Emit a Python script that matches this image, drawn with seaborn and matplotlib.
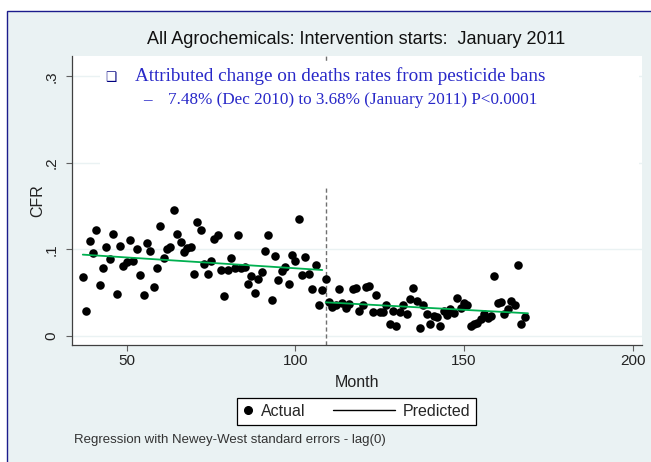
import matplotlib.patches as mpatches
import matplotlib.pyplot as plt
import numpy as np
import pandas as pd
import seaborn as sns
from matplotlib.legend_handler import HandlerLine2D
from matplotlib.lines import Line2D

# monthly case fatality rate, month 37 .. 168
months = list(range(37, 169))
cfr = [
    0.068, 0.029, 0.109, 0.096, 0.122, 0.059, 0.078, 0.103, 0.089, 0.118,  # 37-46
    0.048, 0.104, 0.081, 0.085, 0.111, 0.086, 0.100, 0.070, 0.047, 0.107,  # 47-56
    0.098, 0.056, 0.078, 0.127, 0.090, 0.100, 0.103, 0.146, 0.118, 0.108,  # 57-66
    0.097, 0.102, 0.103, 0.071, 0.132, 0.122, 0.083, 0.071, 0.087, 0.112,  # 67-76
    0.116, 0.076, 0.046, 0.076, 0.090, 0.078, 0.117, 0.078, 0.080, 0.060,  # 77-86
    0.069, 0.049, 0.066, 0.074, 0.098, 0.116, 0.041, 0.092, 0.065, 0.075,  # 87-96
    0.079, 0.060, 0.093, 0.086, 0.135, 0.070, 0.091, 0.071, 0.054, 0.082,  # 97-106
    0.036, 0.053, 0.066, 0.039, 0.033, 0.036, 0.054, 0.038, 0.032, 0.037,  # 107-116
    0.054, 0.055, 0.029, 0.036, 0.056, 0.058, 0.027, 0.047, 0.027, 0.027,  # 117-126
    0.036, 0.013, 0.028, 0.011, 0.027, 0.036, 0.025, 0.042, 0.055, 0.040,  # 127-136
    0.009, 0.036, 0.025, 0.013, 0.023, 0.022, 0.011, 0.028, 0.024, 0.031,  # 137-146
    0.026, 0.044, 0.032, 0.038, 0.036, 0.011, 0.013, 0.015, 0.019, 0.025,  # 147-156
    0.021, 0.023, 0.069, 0.038, 0.039, 0.025, 0.031, 0.040, 0.036, 0.082,  # 157-166
    0.014, 0.022,                                                          # 167-168
]

# fitted segments before / after the intervention
pre_months = [37, 108]
pre_pred = [0.0938, 0.0760]
post_months = [109, 169]
post_pred = [0.0386, 0.0259]
intervention_month = 109

x_ticks = [50, 100, 150, 200]
y_ticks = [0, 0.1, 0.2, 0.3]
y_tick_labels = ['0', '.1', '.2', '.3']

title = 'All Agrochemicals: Intervention starts:  January 2011'
note_head = 'Attributed change on deaths rates from pesticide bans'
note_detail = '7.48% (Dec 2010) to 3.68% (January 2011) P<0.0001'
footnote = 'Regression with Newey-West standard errors - lag(0)'

sns.set_theme(style='white')
plt.rcParams['font.family'] = ['Liberation Sans', 'DejaVu Sans']

W, H = 651, 462
fig = plt.figure(figsize=(W / 100, H / 100), dpi=100, facecolor='white')


def fx(px):
    return px / W


def fy(py):
    return 1 - py / H


### GRAPH REGION (Stata-like grey-blue panel) ###
fig.patches.append(mpatches.Rectangle(
    (fx(7), -0.1), 1.2, fy(11) + 0.1, transform=fig.transFigure,
    facecolor='#EAF2F3', edgecolor='#1C1C8C', lw=1.0, zorder=-1))

ax = fig.add_axes([fx(72), fy(345), fx(642) - fx(72), fy(56) - fy(345)])
ax.set_zorder(1)
ax.set_facecolor('white')

### DATA ###
df = pd.DataFrame({'Month': months, 'CFR': cfr})
pred = pd.DataFrame({
    'Month': pre_months + post_months,
    'CFR': pre_pred + post_pred,
    'period': ['pre'] * len(pre_months) + ['post'] * len(post_months),
})

sns.scatterplot(data=df, x='Month', y='CFR', ax=ax, color='black', s=38,
                linewidth=0, zorder=3, legend=False)
sns.lineplot(data=pred, x='Month', y='CFR', units='period', estimator=None,
             color='#00B050', lw=1.3, ax=ax, zorder=4, legend=False)

ax.axvline(intervention_month, color='#707070', lw=1, ls=(0, (3, 2)), zorder=1)

# white box behind the annotation hides grid and xline
ax.add_patch(mpatches.Rectangle((0.049, 0.543), 0.945, 0.436, transform=ax.transAxes,
                                facecolor='white', edgecolor='none', zorder=2))

### AXES ###
ax.set_xlim(33.8, 202.8)
ax.set_ylim(-0.0108, 0.3237)
ax.set_xticks(x_ticks)
ax.set_yticks(y_ticks)
ax.set_yticklabels(y_tick_labels)
ax.yaxis.grid(True, color='#EAF2F3', lw=1)
ax.xaxis.grid(False)
ax.set_axisbelow(True)
for side in ['top', 'right']:
    ax.spines[side].set_visible(False)
for side in ['left', 'bottom']:
    ax.spines[side].set_color('#404040')
    ax.spines[side].set_linewidth(0.9)
ax.tick_params(axis='both', direction='out', length=4.5, width=0.8, color='#606060',
               labelsize=11, labelcolor='#222222', left=True, bottom=True)
ax.tick_params(axis='y', pad=5, labelrotation=90)
ax.tick_params(axis='x', pad=2)
for lab in ax.get_yticklabels():
    lab.set_verticalalignment('center')
ax.set_xlabel('Month', fontsize=11.5, labelpad=5, color='#222222')
ax.set_ylabel('CFR', fontsize=11.5, labelpad=0, color='#222222')

### TEXT ###
fig.text(fx(356), fy(40), title, ha='center', va='center', fontsize=13, color='#111111')

fig.text(fx(111), fy(77), '\u2751', family=['DejaVu Sans'], color='#000080',
         fontsize=9, ha='center', va='center', zorder=5)
fig.text(fx(135), fy(76), note_head, family=['Liberation Serif'], fontsize=13.8,
         color='#2828C8', ha='left', va='center', zorder=5)
fig.text(fx(143), fy(100), '\u2013', family=['Liberation Serif'], fontsize=12.3,
         color='#2828C8', ha='left', va='center', zorder=5)
fig.text(fx(168), fy(100), note_detail, family=['Liberation Serif'], fontsize=12.3,
         color='#2828C8', ha='left', va='center', zorder=5)

fig.text(fx(74), fy(440), footnote, fontsize=9.5, color='#333333', ha='left', va='center')


### LEGEND ###
class HandlerWideLine(HandlerLine2D):
    # stretch the line to the left into the column gap
    def get_xdata(self, legend, xdescent, ydescent, width, height, fontsize):
        xdata = np.array([-xdescent - 3.2 * fontsize, -xdescent + width])
        return xdata, xdata[-1:]


handles = [
    Line2D([], [], marker='o', color='black', ls='none', markersize=5.5),
    Line2D([], [], color='black', lw=1),
]
leg = fig.legend(handles, ['Actual', 'Predicted'], loc='center',
                 bbox_to_anchor=(fx(356.5), fy(411.5)), ncol=2,
                 handlelength=0.7, handletextpad=0.46, columnspacing=4.9,
                 borderpad=0.35, fontsize=11.5, frameon=True, fancybox=False,
                 edgecolor='black', facecolor='white', framealpha=1,
                 handler_map={handles[1]: HandlerWideLine()})
leg.get_frame().set_linewidth(0.9)

fig.savefig('out.png', dpi=100)
